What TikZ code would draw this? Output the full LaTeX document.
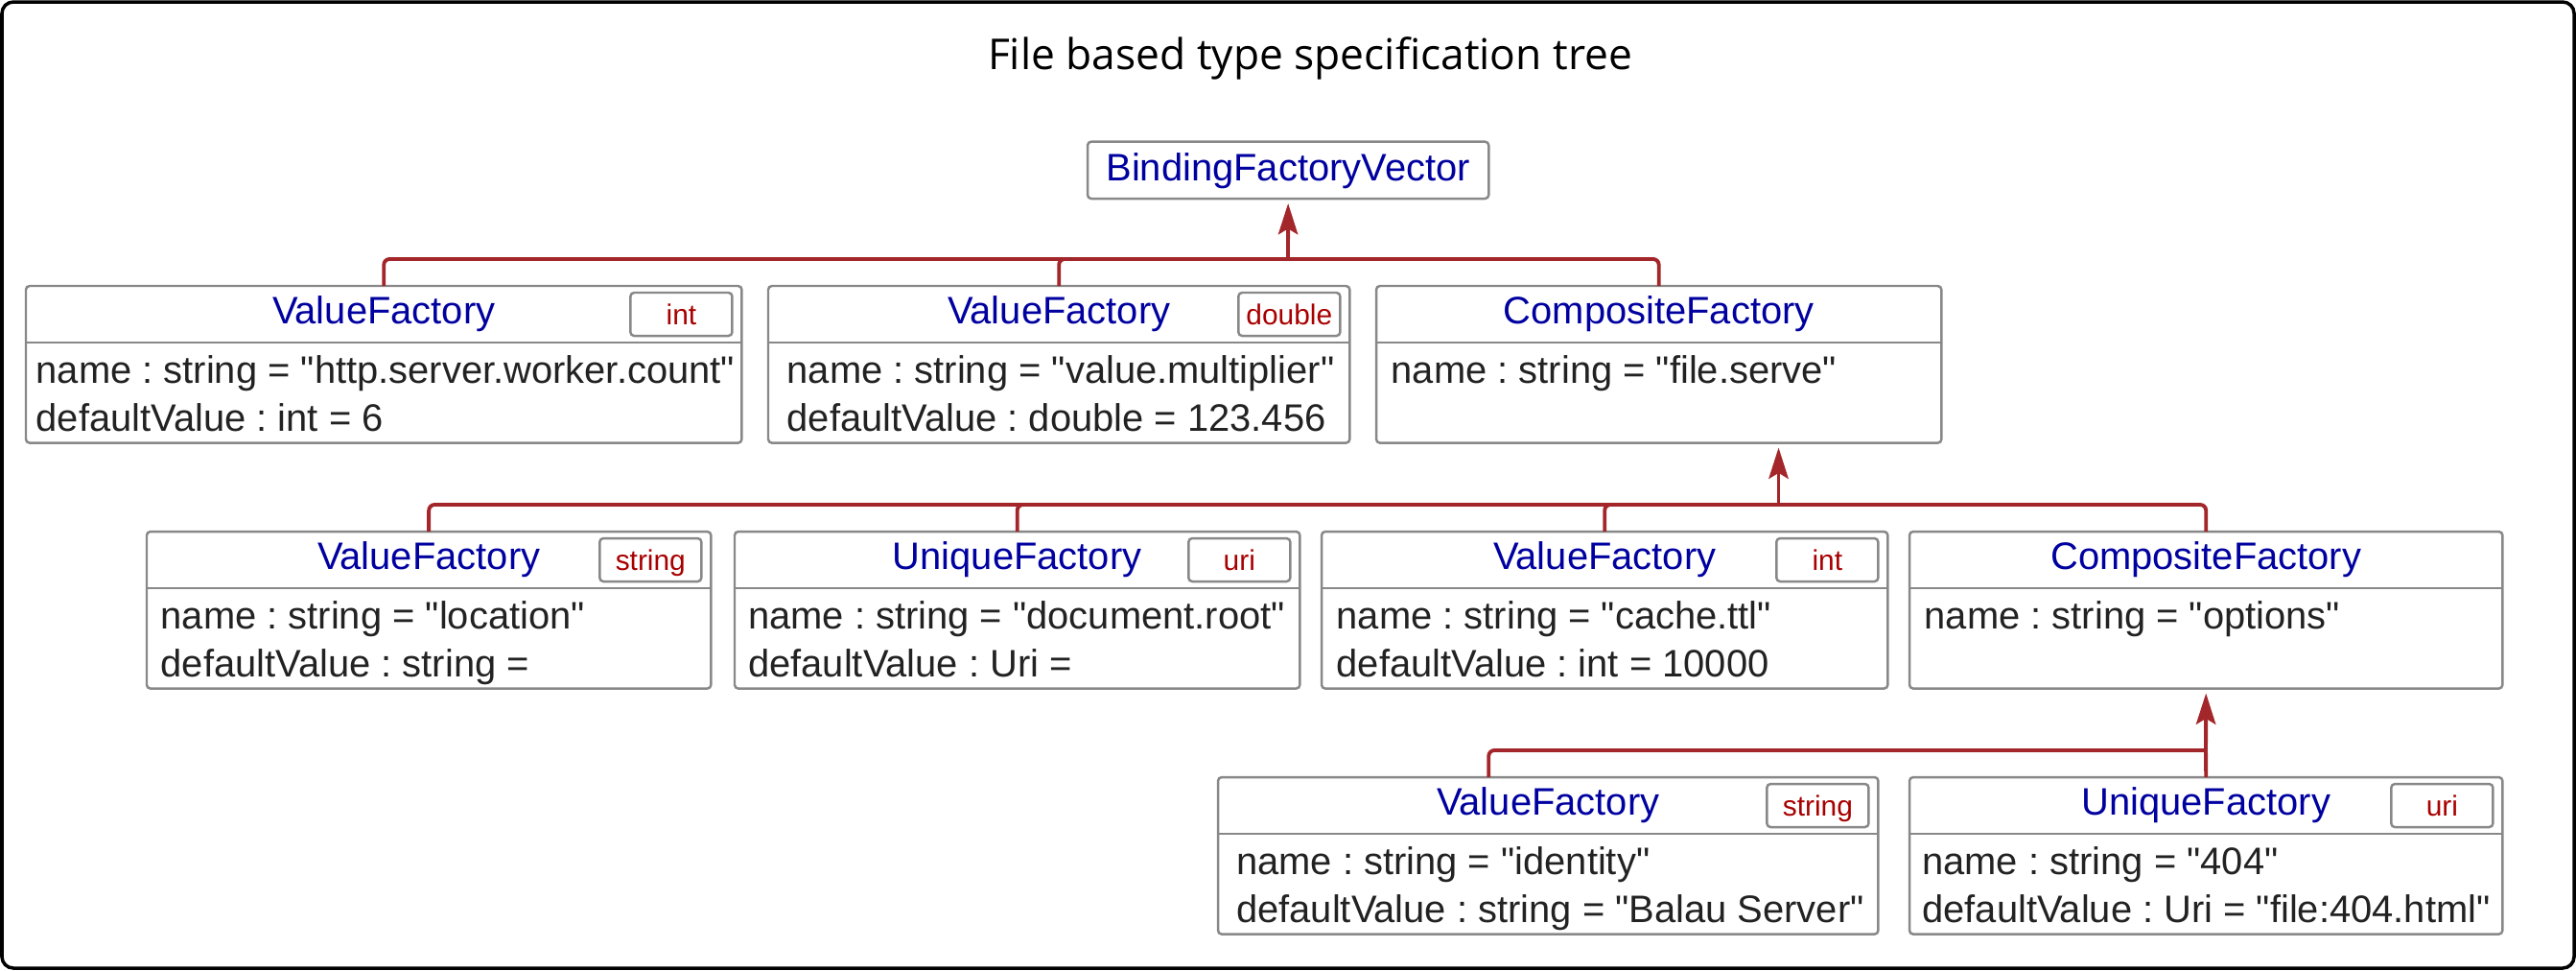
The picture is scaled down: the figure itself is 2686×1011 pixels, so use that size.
\documentclass[tikz,border=0pt]{standalone}
\usepackage{fontspec}
\setmainfont{Liberation Sans}[Ligatures=TeXOff]
\newfontfamily\titlefont{Open Sans}
\usepackage{xcolor}
\usepackage{tikz}
\usetikzlibrary{arrows.meta,positioning}
\frenchspacing

\definecolor{linkred}{HTML}{A3262A}
\definecolor{hdrblue}{HTML}{0000A0}
\definecolor{typered}{HTML}{A80000}
\definecolor{boxgray}{HTML}{888888}
\definecolor{attrgray}{HTML}{222222}

\begin{document}
\begin{tikzpicture}[
    x=0.01cm, y=-0.01cm,
    cls/.style={rectangle, draw=boxgray, line width=0.7pt, rounded corners=1.1pt, inner sep=0, outer sep=0, anchor=north west, minimum height=1.635cm},
    sep/.style={draw=boxgray, line width=0.7pt},
    hdr/.style={anchor=base, inner sep=0, text=hdrblue, font=\fontsize{11.35}{13}\selectfont},
    attr/.style={anchor=base west, inner sep=0, text=attrgray, font=\fontsize{11.35}{13}\selectfont},
    typebox/.style={rectangle, draw=boxgray, line width=0.7pt, rounded corners=1.1pt, anchor=north east, inner sep=0, outer sep=0, minimum width=1.06cm, minimum height=0.45cm, text height=7.4pt, text depth=1.2pt, text=typered, font=\fontsize{8.5}{10}\selectfont},
    link/.style={draw=linkred, line width=1.1pt, rounded corners=1.7pt},
    arrow/.style={link, -{Stealth[length=9.2pt, width=5.8pt, inset=1.7pt]}, shorten >=1.4pt}
]
    \useasboundingbox (0,0) rectangle (2686,1011);
    \draw[line width=1pt, rounded corners=3.4pt] (2,2) rectangle (2684,1009);
    \node[font=\titlefont\fontsize{12.6}{15}\selectfont, anchor=base, inner sep=0] (title) at (1366,72) {File based type specification tree};

    \node[cls, minimum width=4.18cm, minimum height=0.594cm] (bfv) at (1134,147.6) {};
    \node[hdr] (bfvname) at ([shift={(0,40.4)}]bfv.north) {BindingFactoryVector};

    \node[cls, minimum width=7.46cm] (vf1) at (27,298) {};
    \node[hdr] (vf1name) at ([shift={(0,39)}]vf1.north) {ValueFactory};
    \node[typebox] (vf1type) at ([shift={(-10,7)}]vf1.north east) {int};
    \draw[sep] ([shift={(0,59)}]vf1.north west) -- ([shift={(0,59)}]vf1.north east);
    \node[attr] (vf1a) at ([shift={(10,101)}]vf1.north west) {name : string = "http.server.worker.count"};
    \node[attr] (vf1b) at ([shift={(10,151)}]vf1.north west) {defaultValue : int = 6};

    \node[cls, minimum width=6.06cm] (vf2) at (801,298) {};
    \node[hdr] (vf2name) at ([shift={(0,39)}]vf2.north) {ValueFactory};
    \node[typebox] (vf2type) at ([shift={(-10,7)}]vf2.north east) {double};
    \draw[sep] ([shift={(0,59)}]vf2.north west) -- ([shift={(0,59)}]vf2.north east);
    \node[attr] (vf2a) at ([shift={(19,101)}]vf2.north west) {name : string = "value.multiplier"};
    \node[attr] (vf2b) at ([shift={(19,151)}]vf2.north west) {defaultValue : double = 123.456};

    \node[cls, minimum width=5.89cm] (cf1) at (1435,298) {};
    \node[hdr] (cf1name) at ([shift={(0,39)}]cf1.north) {CompositeFactory};
    \draw[sep] ([shift={(0,59)}]cf1.north west) -- ([shift={(0,59)}]cf1.north east);
    \node[attr] (cf1a) at ([shift={(15,101)}]cf1.north west) {name : string = "file.serve"};

    \node[cls, minimum width=5.88cm] (vf3) at (153,554) {};
    \node[hdr] (vf3name) at ([shift={(0,39)}]vf3.north) {ValueFactory};
    \node[typebox] (vf3type) at ([shift={(-10,7)}]vf3.north east) {string};
    \draw[sep] ([shift={(0,59)}]vf3.north west) -- ([shift={(0,59)}]vf3.north east);
    \node[attr] (vf3a) at ([shift={(14,101)}]vf3.north west) {name : string = "location"};
    \node[attr] (vf3b) at ([shift={(14,151)}]vf3.north west) {defaultValue : string =};

    \node[cls, minimum width=5.89cm] (uf1) at (766,554) {};
    \node[hdr] (uf1name) at ([shift={(0,39)}]uf1.north) {UniqueFactory};
    \node[typebox] (uf1type) at ([shift={(-10,7)}]uf1.north east) {uri};
    \draw[sep] ([shift={(0,59)}]uf1.north west) -- ([shift={(0,59)}]uf1.north east);
    \node[attr] (uf1a) at ([shift={(13.5,101)}]uf1.north west) {name : string = "document.root"};
    \node[attr] (uf1b) at ([shift={(13.5,151)}]uf1.north west) {defaultValue : Uri =};

    \node[cls, minimum width=5.90cm] (vf4) at (1378,554) {};
    \node[hdr] (vf4name) at ([shift={(0,39)}]vf4.north) {ValueFactory};
    \node[typebox] (vf4type) at ([shift={(-10,7)}]vf4.north east) {int};
    \draw[sep] ([shift={(0,59)}]vf4.north west) -- ([shift={(0,59)}]vf4.north east);
    \node[attr] (vf4a) at ([shift={(15,101)}]vf4.north west) {name : string = "cache.ttl"};
    \node[attr] (vf4b) at ([shift={(15,151)}]vf4.north west) {defaultValue : int = 10000};

    \node[cls, minimum width=6.18cm] (cf2) at (1991,554) {};
    \node[hdr] (cf2name) at ([shift={(0,39)}]cf2.north) {CompositeFactory};
    \draw[sep] ([shift={(0,59)}]cf2.north west) -- ([shift={(0,59)}]cf2.north east);
    \node[attr] (cf2a) at ([shift={(15,101)}]cf2.north west) {name : string = "options"};

    \node[cls, minimum width=6.88cm] (vf5) at (1270,810) {};
    \node[hdr] (vf5name) at ([shift={(0,39)}]vf5.north) {ValueFactory};
    \node[typebox] (vf5type) at ([shift={(-10,7)}]vf5.north east) {string};
    \draw[sep] ([shift={(0,59)}]vf5.north west) -- ([shift={(0,59)}]vf5.north east);
    \node[attr] (vf5a) at ([shift={(18.5,101)}]vf5.north west) {name : string = "identity"};
    \node[attr] (vf5b) at ([shift={(18.5,151)}]vf5.north west) {defaultValue : string = "Balau Server"};

    \node[cls, minimum width=6.18cm] (uf2) at (1991,810) {};
    \node[hdr] (uf2name) at ([shift={(0,39)}]uf2.north) {UniqueFactory};
    \node[typebox] (uf2type) at ([shift={(-10,7)}]uf2.north east) {uri};
    \draw[sep] ([shift={(0,59)}]uf2.north west) -- ([shift={(0,59)}]uf2.north east);
    \node[attr] (uf2a) at ([shift={(12.6,101)}]uf2.north west) {name : string = "404"};
    \node[attr] (uf2b) at ([shift={(12.6,151)}]uf2.north west) {defaultValue : Uri = "file:404.html"};

    \coordinate (j1) at (1343,270);
    \draw[link] (vf1.north) |- (j1);
    \draw[link] (vf2.north) |- (j1);
    \draw[link] (cf1.north) |- (j1);
    \draw[arrow] (j1) -- (bfv.south);

    \coordinate (j2) at (1854.5,526);
    \draw[link] (vf3.north) |- (j2);
    \draw[link] (uf1.north) |- (j2);
    \draw[link] (vf4.north) |- (j2);
    \draw[link] (cf2.north) |- (j2);
    \draw[arrow] (j2) -- (j2 |- cf1.south);

    \coordinate (j3) at (2300,782);
    \draw[link] ([shift={(-62,0)}]vf5.north) |- (j3);
    \draw[link] (uf2.north) -- (j3);
    \draw[arrow] (j3) -- (cf2.south);
\end{tikzpicture}
\end{document}
